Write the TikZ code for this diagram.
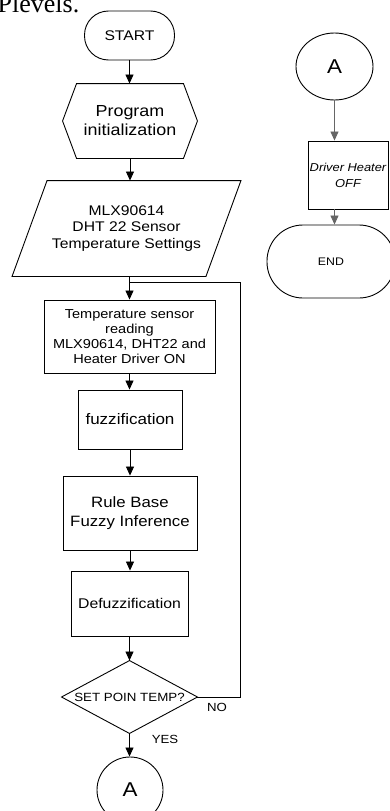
\documentclass[tikz,border=0pt]{standalone}
\usepackage{fontspec}
\setmainfont{Liberation Sans}[FakeStretch=1.12]
\newfontfamily\serifbody{Liberation Serif}
\usetikzlibrary{arrows.meta,shapes.geometric}
\newcommand\fsz[2]{\fontsize{#1}{#2}\selectfont}
\colorlet{linkgray}{black!60}

\begin{document}
\begin{tikzpicture}[x=1pt,y=-1pt,
  box/.style={draw, line width=0.9pt, inner sep=0pt, align=center},
  outline/.style={line width=0.9pt},
  flow/.style={line width=0.8pt, -{Triangle[length=9pt,width=8pt]}},
  link/.style={line width=0.8pt},
  lbl/.style={inner sep=0pt, font=\fsz{11.8}{14}},
]
\useasboundingbox (0,0) rectangle (390,811);
\clip (0,0) rectangle (390,811);

% running text above the chart
\node[anchor=base west, inner sep=0pt, font=\serifbody\fsz{26}{26}] (head) at (-2.5,12.5) {Plevels.};

% ---- main column ----
\node[box, rounded corners=24pt, minimum width=90pt, minimum height=49pt, font=\fsz{14}{16}] (start) at (129.5,35.5) {START};

\node[box, draw=none, minimum width=134pt, minimum height=74pt, font=\fsz{16}{19}] (init) at (130,121) {Program\\initialization};
\draw[outline] (init.west) -- ([xshift=14pt]init.north west) -- ([xshift=-14pt]init.north east)
  -- (init.east) -- ([xshift=-14pt]init.south east) -- ([xshift=14pt]init.south west) -- cycle;

\node[box, draw=none, minimum width=193pt, minimum height=95pt, font=\fsz{14}{16.3}] (io) at (126.5,228.5) {MLX90614\\DHT 22 Sensor\\Temperature Settings};
\draw[outline] ([xshift=17.5pt]io.north west) -- ([xshift=17.5pt]io.north east)
  -- ([xshift=-17.5pt]io.south east) -- ([xshift=-17.5pt]io.south west) -- cycle;

\node[box, minimum width=171pt, minimum height=73pt, font=\fsz{13}{15.2}] (read) at (129.5,336.5) {Temperature sensor\\reading\\MLX90614, DHT22 and\\Heater Driver ON};

\node[box, minimum width=104pt, minimum height=59pt, font=\fsz{15.2}{18}] (fuzz) at (130,419.5) {fuzzification};

\node[box, minimum width=134pt, minimum height=74pt, font=\fsz{15}{19}] (rule) at (130,513) {Rule Base\\Fuzzy Inference};

\node[box, minimum width=117pt, minimum height=65pt, font=\fsz{14.1}{17}] (defuzz) at (129.5,603.5) {Defuzzification};

\node[box, draw=none, minimum width=135pt, minimum height=72pt, font=\fsz{11.9}{14}] (dec) at (129.5,697) {SET POIN TEMP?};
\draw[outline] (dec.north) -- (dec.east) -- (dec.south) -- (dec.west) -- cycle;

\node[draw, circle, line width=0.9pt, minimum size=66pt, inner sep=0pt, font=\fsz{20}{22}] (conA) at (130,790) {A};

\node[lbl] (no) at (217,707) {NO};
\node[lbl] (yes) at (165,739) {YES};

% connectors
\draw[flow] (start.south) -- (start.south |- init.north);
\draw[flow] (init.south) -- (init.south |- io.north);
\draw[flow] (read.north |- io.south) -- (read.north);
\draw[flow] (read.south) -- (read.south |- fuzz.north);
\draw[flow] (fuzz.south) -- (rule.north);
\draw[flow] (rule.south) -- (rule.south |- defuzz.north);
\draw[flow] (defuzz.south) -- (dec.north);
\draw[flow] (dec.south) -- (dec.south |- conA.north);

% NO branch back to the sensor reading
\coordinate (loopturn) at (240,697);
\coordinate (looptop) at (240,282);
\draw[link] (dec.east) -- (loopturn) -- (looptop) -- (looptop -| read.north);

% ---- continuation column ----
\node[draw, ellipse, line width=0.9pt, minimum width=77pt, minimum height=67pt, inner sep=0pt, font=\fsz{20}{22}] (conB) at (334.5,66.5) {A};

\node[box, minimum width=80pt, minimum height=68pt, font=\itshape\fsz{11.5}{16}] (drv) at (348,175) {Driver Heater\\OFF};

\node[box, rounded corners=36pt, minimum width=128pt, minimum height=73pt, font=\fsz{11}{12}] (fin) at (331,261.5) {END};

\draw[flow, draw=linkgray] (conB.south) -- (conB.south |- drv.north);
\draw[flow, draw=linkgray] (conB.south |- drv.south) -- (conB.south |- fin.north);
\end{tikzpicture}
\end{document}
